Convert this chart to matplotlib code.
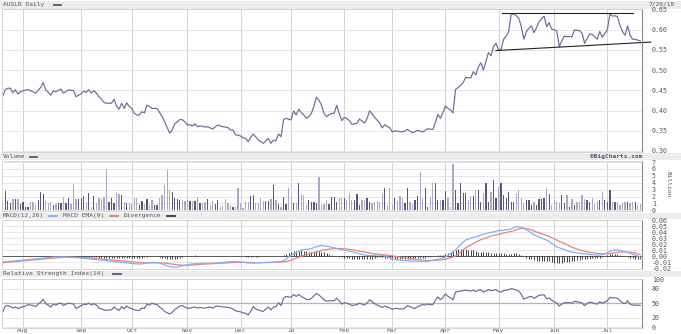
import numpy as np
import pandas as pd
import matplotlib
matplotlib.use('Agg')
import matplotlib.pyplot as plt
from matplotlib.patches import Rectangle
from matplotlib.lines import Line2D

W, H = 681, 334
plt.rcParams['font.family'] = ['DejaVu Sans Mono']
plt.rcParams['font.size'] = 5

# trading days 7/20/17 - 7/20/18
holidays = ['2017-09-04', '2017-11-23', '2017-12-25', '2018-01-01', '2018-01-15',
            '2018-02-19', '2018-03-30', '2018-05-28', '2018-07-04']
dates = pd.bdate_range('2017-07-20', '2018-07-20', freq='C', holidays=holidays)

close = [
    0.436, 0.452, 0.455, 0.455, 0.444, 0.451, 0.441, 0.446, 0.449, 0.450,
    0.452, 0.449, 0.446, 0.443, 0.450, 0.457, 0.469, 0.451, 0.445, 0.438,
    0.449, 0.446, 0.450, 0.453, 0.443, 0.447, 0.451, 0.450, 0.449, 0.434,
    0.438, 0.441, 0.448, 0.445, 0.451, 0.443, 0.449, 0.443, 0.434, 0.428,
    0.420, 0.418, 0.418, 0.418, 0.428, 0.411, 0.403, 0.418, 0.405, 0.419,
    0.410, 0.405, 0.393, 0.389, 0.389, 0.397, 0.394, 0.413, 0.410, 0.405,
    0.405, 0.405, 0.395, 0.385, 0.372, 0.358, 0.344, 0.352, 0.367, 0.372,
    0.378, 0.377, 0.372, 0.364, 0.365, 0.362, 0.367, 0.360, 0.362, 0.361,
    0.359, 0.360, 0.357, 0.354, 0.360, 0.364, 0.362, 0.360, 0.359, 0.358,
    0.352, 0.352, 0.340, 0.339, 0.337, 0.333, 0.331, 0.323, 0.333, 0.342,
    0.335, 0.327, 0.323, 0.319, 0.325, 0.331, 0.319, 0.327, 0.325, 0.342,
    0.335, 0.377, 0.381, 0.378, 0.377, 0.399, 0.389, 0.403, 0.395, 0.389,
    0.381, 0.385, 0.393, 0.410, 0.433, 0.425, 0.413, 0.393, 0.385, 0.389,
    0.393, 0.393, 0.413, 0.393, 0.375, 0.383, 0.380, 0.375, 0.366, 0.367,
    0.368, 0.379, 0.374, 0.369, 0.380, 0.399, 0.392, 0.383, 0.376, 0.369,
    0.357, 0.365, 0.361, 0.357, 0.347, 0.350, 0.349, 0.348, 0.347, 0.350,
    0.353, 0.349, 0.345, 0.348, 0.351, 0.349, 0.347, 0.351, 0.355, 0.354,
    0.353, 0.370, 0.390, 0.381, 0.395, 0.411, 0.405, 0.401, 0.394, 0.452,
    0.457, 0.462, 0.469, 0.482, 0.481, 0.480, 0.496, 0.488, 0.508, 0.518,
    0.500, 0.521, 0.543, 0.535, 0.558, 0.566, 0.549, 0.551, 0.576, 0.584,
    0.595, 0.638, 0.638, 0.634, 0.628, 0.607, 0.576, 0.595, 0.603, 0.609,
    0.592, 0.605, 0.619, 0.627, 0.633, 0.607, 0.617, 0.601, 0.599, 0.597,
    0.558, 0.572, 0.584, 0.582, 0.583, 0.582, 0.599, 0.598, 0.597, 0.591,
    0.566, 0.578, 0.589, 0.588, 0.582, 0.576, 0.595, 0.581, 0.590, 0.599,
    0.638, 0.633, 0.634, 0.632, 0.610, 0.595, 0.586, 0.609, 0.586, 0.576,
    0.576, 0.574, 0.572,
]

# volume, billions
volume = [
    1.02, 2.87, 1.33, 1.10, 1.60, 1.60, 1.60, 0.87, 1.17, 0.53,
    0.53, 1.17, 1.26, 0.78, 1.51, 2.62, 2.33, 1.33, 1.02, 1.17,
    0.78, 0.87, 1.10, 1.10, 1.99, 1.02, 1.75, 0.87, 3.79, 1.60,
    1.60, 1.75, 2.14, 1.26, 2.48, 0.53, 2.09, 1.02, 1.75, 1.60,
    1.99, 5.98, 1.17, 1.75, 1.02, 2.58, 2.33, 2.24, 1.17, 1.10,
    1.02, 0.87, 1.85, 1.75, 0.78, 1.33, 0.87, 1.60, 0.78, 1.51,
    0.78, 0.78, 1.75, 2.24, 3.69, 5.78, 2.96, 2.72, 1.85, 1.60,
    1.51, 1.51, 1.33, 1.33, 1.33, 1.33, 1.33, 1.99, 1.02, 1.02,
    1.26, 1.60, 0.78, 1.33, 0.87, 1.51, 0.53, 0.63, 1.60, 1.02,
    0.78, 0.53, 0.53, 3.21, 1.02, 0.39, 1.26, 1.26, 2.09, 2.24,
    1.10, 1.02, 1.85, 1.33, 1.33, 1.33, 1.60, 3.69, 1.51, 0.87,
    0.53, 1.99, 0.87, 3.21, 1.99, 1.02, 1.02, 3.94, 2.33, 2.24,
    0.78, 1.51, 1.26, 1.26, 1.02, 4.81,
    0.78, 0.87, 1.51, 0.87, 1.99, 1.99, 1.26, 1.75, 1.75, 1.75,
    1.51, 2.48, 1.51, 1.51, 2.33, 0.78, 1.51, 1.51, 1.75, 1.26,
    1.10, 1.17, 1.33, 1.17, 2.33, 3.30, 0.78, 3.30, 0.78, 1.75,
    1.41, 2.14, 1.85, 1.02, 3.30, 1.26, 0.87, 1.51, 2.14, 5.54,
    1.85, 3.21, 0.53, 1.99, 3.94, 3.94, 1.51, 1.51, 1.51, 2.82,
    1.75, 0.53, 6.71, 2.96, 1.02, 3.94, 2.58, 2.48, 1.51, 2.14,
    2.14, 2.92, 2.96, 1.17, 2.58, 3.94, 1.26, 2.72, 4.42, 1.85,
    3.45, 3.94, 2.24, 1.85, 2.72, 1.26, 1.26, 2.33, 2.96, 1.75,
    1.02, 1.51, 1.51, 0.78, 1.26, 0.78, 1.65, 1.65, 1.75, 3.21,
    2.33, 0.78, 1.51, 1.26, 1.02, 2.24, 1.02, 2.24, 0.53, 1.65,
    0.78, 1.26, 1.26, 2.24, 1.65, 1.51, 1.26, 1.75, 0.87, 1.33,
    1.51, 2.72, 1.51, 1.17, 2.96, 1.26, 1.17, 1.26, 0.78, 1.02,
    1.17, 1.17, 1.02, 1.26, 1.26, 0.78, 0.92,
]

macd = [
    -0.0092, -0.0088, -0.0084, -0.008, -0.0076, -0.0072, -0.0068, -0.0064, -0.006, -0.0056,
    -0.0052, -0.0048, -0.0044, -0.004, -0.0036, -0.0032, -0.0028, -0.0024, -0.002, -0.0015,
    -0.001, -0.0008, -0.0007, -0.0007, -0.0008, -0.001, -0.0012, -0.0014, -0.0016, -0.0019,
    -0.0022, -0.0026, -0.003, -0.0034, -0.0038, -0.0042, -0.0046, -0.005, -0.0055, -0.006,
    -0.0065, -0.007, -0.0075, -0.008, -0.0085, -0.009, -0.0093, -0.0097, -0.0102, -0.0108,
    -0.0112, -0.0116, -0.012, -0.0123, -0.0125, -0.0122, -0.0115, -0.0108, -0.0102, -0.0097,
    -0.0098, -0.0102, -0.0112, -0.0125, -0.014, -0.0155, -0.0168, -0.0176, -0.018, -0.0175,
    -0.0165, -0.0155, -0.0145, -0.0136, -0.0128, -0.0124, -0.012, -0.0118, -0.0116, -0.0115,
    -0.0114, -0.0114, -0.0114, -0.0112, -0.011, -0.0106, -0.0102, -0.0098, -0.0094, -0.009,
    -0.0088, -0.0086, -0.0086, -0.0088, -0.0092, -0.0096, -0.0102, -0.0108, -0.0108, -0.0108,
    -0.0106, -0.0104, -0.0102, -0.010, -0.0098, -0.0097, -0.0097, -0.0095, -0.0092, -0.0086,
    -0.008, -0.0069, -0.004, -0.001, 0.002, 0.004, 0.0065, 0.0085, 0.0108, 0.0115,
    0.012, 0.0125, 0.013, 0.015, 0.0165, 0.0175, 0.018, 0.0178, 0.0172, 0.0165,
    0.0153, 0.0145, 0.0135, 0.0125, 0.0115, 0.0108, 0.0098, 0.0088, 0.0078, 0.0068,
    0.0055, 0.0045, 0.0035, 0.0025, 0.0018, 0.0014, 0.0015, 0.002, 0.0025, 0.0025,
    0.002, 0.001, -0.0005, -0.002, -0.0035, -0.0045, -0.0055, -0.006, -0.0065, -0.0069,
    -0.0072, -0.0075, -0.0077, -0.0078, -0.008, -0.008, -0.008, -0.008, -0.0078, -0.0072,
    -0.0065, -0.0055, -0.0045, -0.0035, -0.0022, -0.001, 0.002, 0.005, 0.008, 0.011,
    0.016, 0.020, 0.024, 0.0275, 0.029, 0.030, 0.032, 0.033, 0.034, 0.036,
    0.037, 0.038, 0.0395, 0.040, 0.041, 0.042, 0.043, 0.0435, 0.044, 0.0445,
    0.045, 0.046, 0.048, 0.0497, 0.0495, 0.0485, 0.047, 0.0445, 0.042, 0.039,
    0.036, 0.034, 0.0325, 0.031, 0.029, 0.0275, 0.025, 0.022, 0.019, 0.016,
    0.0145, 0.013, 0.0115, 0.010, 0.0085, 0.0072, 0.0065, 0.006, 0.0055, 0.005,
    0.0045, 0.004, 0.0035, 0.003, 0.0025, 0.0025, 0.0025, 0.003, 0.0045, 0.0065,
    0.0085, 0.010, 0.011, 0.011, 0.010, 0.009, 0.0078, 0.0065, 0.0052, 0.004,
    0.0025, 0.0008, -0.001,
]

macd_ema = [
    -0.0105, -0.0101, -0.0097, -0.0093, -0.0089, -0.0085, -0.0081, -0.0077, -0.0073, -0.0069,
    -0.0065, -0.0061, -0.0057, -0.0053, -0.0049, -0.0045, -0.0041, -0.0037, -0.0033, -0.0029,
    -0.0025, -0.0021, -0.0018, -0.0015, -0.0013, -0.0012, -0.0012, -0.0012, -0.0013, -0.0014,
    -0.0015, -0.0017, -0.0019, -0.0022, -0.0025, -0.0028, -0.0031, -0.0034, -0.0037, -0.0041,
    -0.0045, -0.0049, -0.0053, -0.0057, -0.0061, -0.0065, -0.0069, -0.0073, -0.0077, -0.0081,
    -0.0085, -0.0089, -0.0093, -0.0097, -0.0101, -0.0104, -0.0106, -0.0107, -0.0107, -0.0106,
    -0.0105, -0.0105, -0.0106, -0.0108, -0.0111, -0.0116, -0.0121, -0.0127, -0.0133, -0.0138,
    -0.0142, -0.0145, -0.0146, -0.0145, -0.0143, -0.014, -0.0137, -0.0134, -0.0131, -0.0128,
    -0.0126, -0.0124, -0.0122, -0.012, -0.0118, -0.0116, -0.0114, -0.0111, -0.0108, -0.0105,
    -0.0102, -0.0099, -0.0097, -0.0095, -0.0095, -0.0096, -0.0097, -0.0099, -0.0101, -0.0102,
    -0.0103, -0.0103, -0.0103, -0.0102, -0.0101, -0.010, -0.0099, -0.0098, -0.0097, -0.0095,
    -0.0093, -0.009, -0.0083, -0.0073, -0.006, -0.0045, -0.003, -0.0013, 0.0003, 0.0018,
    0.0032, 0.0045, 0.0057, 0.0068, 0.0079, 0.009, 0.010, 0.0109, 0.0117, 0.0123,
    0.0128, 0.0131, 0.0132, 0.0132, 0.0131, 0.0128, 0.0124, 0.0119, 0.0113, 0.0106,
    0.0098, 0.009, 0.0082, 0.0074, 0.0066, 0.0058, 0.0051, 0.0045, 0.004, 0.0036,
    0.0032, 0.0027, 0.0022, 0.0016, 0.001, 0.0003, -0.0004, -0.0011, -0.0018, -0.0024,
    -0.003, -0.0036, -0.0041, -0.0046, -0.0051, -0.0055, -0.0059, -0.0062, -0.0064, -0.0065,
    -0.0065, -0.0064, -0.0062, -0.0058, -0.0052, -0.0045, -0.0035, -0.0022, -0.0008, 0.001,
    0.004, 0.0075, 0.011, 0.0145, 0.0175, 0.019, 0.0215, 0.024, 0.026, 0.028,
    0.0295, 0.031, 0.0325, 0.034, 0.035, 0.036, 0.037, 0.038, 0.039, 0.040,
    0.041, 0.042, 0.043, 0.0445, 0.046, 0.0467, 0.047, 0.0465, 0.0455, 0.044,
    0.0425, 0.041, 0.0395, 0.038, 0.0365, 0.035, 0.0333, 0.0315, 0.0295, 0.0275,
    0.0255, 0.0235, 0.0215, 0.0195, 0.0175, 0.0155, 0.014, 0.0125, 0.011, 0.0098,
    0.0087, 0.0078, 0.007, 0.0063, 0.0057, 0.0052, 0.0048, 0.0045, 0.0043, 0.0043,
    0.0048, 0.0055, 0.0063, 0.007, 0.0075, 0.0077, 0.0077, 0.0075, 0.0072, 0.0067,
    0.006, 0.0045, 0.003,
]

rsi = [
    32, 44, 45, 43, 40, 42, 39, 41, 43, 44,
    47, 46, 45, 43, 48, 52, 58, 49, 46, 42,
    48, 46, 49, 50, 45, 48, 50, 49, 48, 39,
    42, 45, 48, 47, 50, 46, 49, 46, 40, 38,
    36, 35, 36, 36, 42, 38, 35, 43, 38, 44,
    40, 39, 36, 35, 35, 40, 39, 48, 46, 50,
    48, 47, 42, 38, 33, 30, 27.6, 31, 37, 40,
    44, 45, 42, 39, 40, 41, 42, 40, 41, 40,
    40, 41, 42, 40, 43, 44, 43, 42, 42, 41,
    40, 38, 34, 33, 32, 30, 29, 25.5, 33, 43,
    38, 36, 34, 33, 38, 42, 36, 42, 43, 51,
    45, 60, 64, 63, 62, 68, 64, 68, 64, 61,
    58, 57, 60, 65, 70, 67, 62, 57, 54, 55,
    55, 55, 60, 55, 48, 51, 50, 48, 45, 46,
    47, 50, 48, 46, 50, 57, 53, 49, 46, 44,
    41, 44, 42, 40, 37, 39, 39, 38, 38, 40,
    45, 43, 40, 39, 43, 45, 47, 46, 48, 47,
    47, 56, 63, 57, 62, 69, 64, 61, 57, 73,
    74, 75, 76, 77, 76, 75, 77, 74, 77, 78,
    73, 75, 78, 76, 77, 78, 74, 73, 76, 77,
    78, 80, 79, 77, 75, 68, 58, 61, 63, 64,
    60, 63, 66, 67, 67, 59, 61, 56, 53, 50,
    44, 48, 51, 51, 51, 50, 54, 53, 52, 50,
    45, 49, 52, 51, 49, 48, 53, 50, 52, 55,
    62, 61, 61, 60, 55, 51, 49, 55, 48, 46,
    46, 46, 45,
]

# hand-drawn channel (bar index, price)
channel_top = ([197.5, 249.3], [0.641, 0.641])
channel_bottom = ([194.9, 256.2], [0.548, 0.569])

x = np.arange(len(dates))
close = np.array(close)
macd = np.array(macd)
macd_ema = np.array(macd_ema)
divergence = macd - macd_ema

# month ticks: first session of each month after the start
month_idx = [i for i in range(1, len(dates)) if dates[i].month != dates[i - 1].month]
month_lbl = [dates[i].strftime('%y') if dates[i].month == 1 else dates[i].strftime('%b')
             for i in month_idx]

TXT = '#555555'
GRID = '#e4e4e4'
VGRID = '#d2d2d2'
FS = 4.4


def box(x0, y0, x1, y1):
    return [x0 / W, 1 - y1 / H, (x1 - x0) / W, (y1 - y0) / H]


def fy(py):
    return 1 - py / H


fig = plt.figure(figsize=(W / 100, H / 100), dpi=100)

# grey title strips
for y0, y1 in [(1, 8.5), (153, 160), (212.5, 219), (270.5, 277)]:
    fig.add_artist(Rectangle((0, fy(y1)), 1, (y1 - y0) / H, transform=fig.transFigure,
                             facecolor='#ececec', edgecolor='none', zorder=0))


def legend_item(px, py, label, color, seg):
    fig.text(px / W, fy(py), label, color=TXT, va='center', ha='left', fontsize=FS)
    fig.add_artist(Line2D([seg[0] / W, seg[1] / W], [fy(py), fy(py)],
                          transform=fig.transFigure, color=color, lw=1.3))


legend_item(3, 4.8, 'AUSLR Daily', '#55557f', (54, 61))
legend_item(3, 156.5, 'Volume', '#55557f', (30, 37))
legend_item(3, 215.8, 'MACD(12,26)', '#7fb0ff', (49, 57))
legend_item(63, 215.8, 'MACD EMA(9)', '#f07070', (110, 118))
legend_item(124, 215.8, 'Divergence', '#333333', (167, 175))
legend_item(3, 273.7, 'Relative Strength Index(14)', '#55557f', (113, 121))
fig.text(662 / W, fy(4.5), '7/20/18', color=TXT, ha='center', va='center', fontsize=FS)
fig.text(642 / W, fy(156.5), '\u00a9BigCharts.com', color='#50507a', ha='right',
         va='center', fontsize=FS, fontweight='bold')
fig.text(668 / W, fy(184), 'Billion', color=TXT, rotation=-90, ha='center', va='center',
         fontsize=FS)

ax_p = fig.add_axes(box(2, 9, 642, 152))
ax_v = fig.add_axes(box(2, 161, 642, 211))
ax_m = fig.add_axes(box(2, 220, 642, 268.5))
ax_r = fig.add_axes(box(2, 279, 642, 327.5))

for ax in (ax_p, ax_v, ax_m, ax_r):
    ax.set_xlim(-0.3, len(dates) - 0.3)
    ax.set_xticks(month_idx)
    ax.yaxis.tick_right()
    ax.tick_params(length=0, labelsize=FS + 0.4, labelcolor=TXT, pad=7)
    ax.tick_params(axis='x', labelbottom=False)
    ax.grid(axis='x', color=VGRID, lw=0.7)
    ax.grid(axis='y', color=GRID, lw=0.6)
    ax.set_axisbelow(True)
    for s in ('left', 'top', 'bottom'):
        ax.spines[s].set_color('#d0d0d0')
        ax.spines[s].set_linewidth(0.6)
    ax.spines['right'].set_color('#8a8a8a')
    ax.spines['right'].set_linewidth(0.8)

# price
ax_p.plot(x, close, color='#6a6a9a', lw=0.85)
ax_p.plot(*channel_top, color='#222222', lw=0.8)
ax_p.plot(*channel_bottom, color='#222222', lw=0.8, clip_on=False)
ax_p.set_ylim(0.2975, 0.6507)
ax_p.set_yticks(np.arange(0.30, 0.651, 0.05))
ax_p.set_yticklabels([f'{v:.2f}' for v in np.arange(0.30, 0.651, 0.05)])

# volume bars, darker on up days
up = np.r_[True, np.diff(close) >= 0]
ax_v.bar(x, volume, width=0.5, color=np.where(up, '#56567f', '#a9a9c6'))
ax_v.set_ylim(-0.1, 7.15)
ax_v.set_yticks(range(0, 8))

# MACD
ax_m.axhline(0, color='#444444', lw=0.6)
ax_m.vlines(x, 0, divergence, colors='#222222', lw=0.6)
ax_m.plot(x, macd_ema, color='#f08080', lw=0.9)
ax_m.plot(x, macd, color='#80b0ff', lw=0.9)
ax_m.set_ylim(-0.02, 0.0608)
mt = np.arange(-0.02, 0.0601, 0.01)
ax_m.set_yticks(mt)
ax_m.set_yticklabels([f'{v:.2f}'.replace('-0.00', '0.00') for v in mt])

# RSI
ax_r.axhline(50, color='#b4b4b4', lw=0.9)
ax_r.plot(x, rsi, color='#6a6a9a', lw=0.85)
ax_r.set_ylim(-0.4, 100)
ax_r.set_yticks([0, 20, 50, 80, 100])
ax_r.tick_params(axis='x', labelbottom=True, pad=0.5, labelsize=FS)
ax_r.set_xticklabels(month_lbl)

fig.savefig('out.png', dpi=100)
